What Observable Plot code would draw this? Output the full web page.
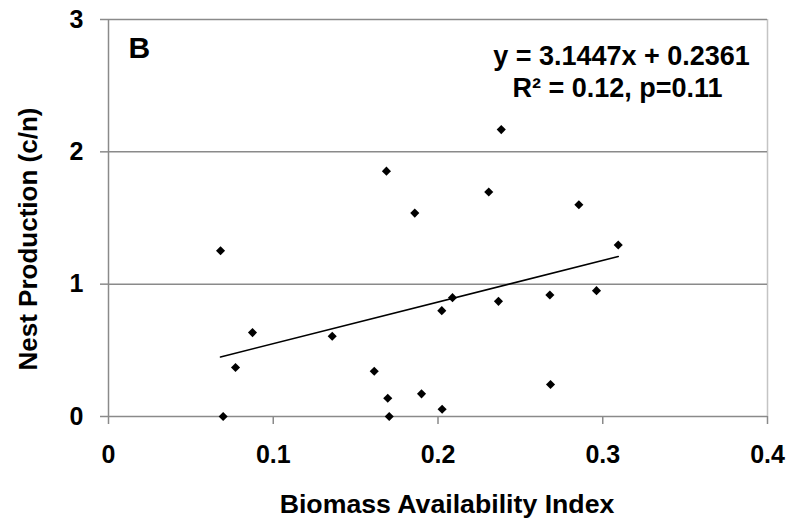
<!DOCTYPE html>
<html>
<head>
<meta charset="utf-8">
<script src="https://cdn.jsdelivr.net/npm/d3@7"></script>
<script src="https://cdn.jsdelivr.net/npm/@observablehq/plot@0.6"></script>
<style>
  html, body { margin: 0; padding: 0; background: #fff; }
  #chart svg { display: block; }
</style>
</head>
<body>
<div id="chart"></div>
<script>
// Biomass Availability Index (x) and Nest Production (c/n) (y)
const biomass = [0.068, 0.0696, 0.0771, 0.0874, 0.1358, 0.1613, 0.1695, 0.1704, 0.1687, 0.1859, 0.2308,
                 0.2384, 0.2855, 0.3094, 0.190, 0.2025, 0.2023, 0.2088, 0.2367, 0.2679, 0.2962, 0.2683];
const nestProd = [1.253, 0, 0.370, 0.634, 0.606, 0.342, 0.138, 0, 1.854, 1.537, 1.696,
                  2.168, 1.600, 1.296, 0.171, 0.055, 0.800, 0.898, 0.870, 0.918, 0.951, 0.2415];
const xTicks = [0, 0.1, 0.2, 0.3, 0.4];
const yTicks = [0, 1, 2, 3];
const slope = [3.1447];
const intercept = [0.2361];
const eqLine1 = ["y = 3.1447x + 0.2361"];
const eqLine2 = ["R² = 0.12, p=0.11"];
const panelLabel = ["B"];
const xTitle = ["Biomass Availability Index"];
const yTitle = ["Nest Production (c/n)"];

const points = biomass.map((x, i) => ({x, y: nestProd[i]}));
const xMin = d3.min(biomass), xMax = d3.max(biomass);
const trend = [xMin, xMax].map(x => ({x, y: slope[0] * x + intercept[0]}));

const font = "Liberation Sans, Arial, sans-serif";
const grid = "#8a8a8a";

const chart = Plot.plot({
  width: 793,
  height: 523,
  marginLeft: 108,
  marginRight: 26,
  marginTop: 19,
  marginBottom: 107,
  style: {fontFamily: font, background: "#fff", color: "#000"},
  x: {domain: [0, 0.4]},
  y: {domain: [0, 3]},
  marks: [
    Plot.ruleX([0.4], {stroke: "#c4c4c4", strokeWidth: 1.5}),
    Plot.ruleY(yTicks.filter(d => d > 0), {stroke: grid, strokeWidth: 1.5}),
    Plot.ruleX([0], {stroke: grid, strokeWidth: 1.5}),
    Plot.ruleY([0], {stroke: grid, strokeWidth: 1.5}),
    Plot.axisY({ticks: yTicks, tickFormat: d => String(d), tickSize: 8, tickPadding: 17,
      stroke: grid, strokeWidth: 1.5, strokeOpacity: 1, fontSize: 25, fontWeight: "bold", fill: "#000", label: null}),
    Plot.axisX({ticks: xTicks, tickFormat: d => String(d), tickSize: 8, tickPadding: 21,
      stroke: grid, strokeWidth: 1.5, strokeOpacity: 1, fontSize: 25, fontWeight: "bold", fill: "#000", label: null}),
    Plot.line(trend, {x: "x", y: "y", stroke: "#000", strokeWidth: 1.6}),
    Plot.dot(points, {x: "x", y: "y", symbol: "diamond2", r: 4.1, fill: "#000", stroke: "none"}),
    Plot.text(panelLabel, {frameAnchor: "top-left", textAnchor: "start", lineAnchor: "bottom",
      dx: 20, dy: 38, fontSize: 30, fontWeight: "bold", fill: "#000"}),
    Plot.text(eqLine1, {frameAnchor: "top-left", textAnchor: "middle", lineAnchor: "bottom",
      dx: 513, dy: 45, fontSize: 27, fontWeight: "bold", fill: "#000"}),
    Plot.text(eqLine2, {frameAnchor: "top-left", textAnchor: "middle", lineAnchor: "bottom",
      dx: 509, dy: 77.5, fontSize: 27, fontWeight: "bold", fill: "#000"}),
    Plot.text(xTitle, {frameAnchor: "bottom", textAnchor: "middle", lineAnchor: "bottom", dx: 9, dy: 96,
      fontSize: 26.7, fontWeight: "bold", fill: "#000"}),
    Plot.text(yTitle, {frameAnchor: "left", textAnchor: "middle", lineAnchor: "bottom", rotate: -90, dx: -72, dy: 21,
      fontSize: 26, fontWeight: "bold", fill: "#000"})
  ]
});
document.getElementById("chart").appendChild(chart);
</script>
</body>
</html>
